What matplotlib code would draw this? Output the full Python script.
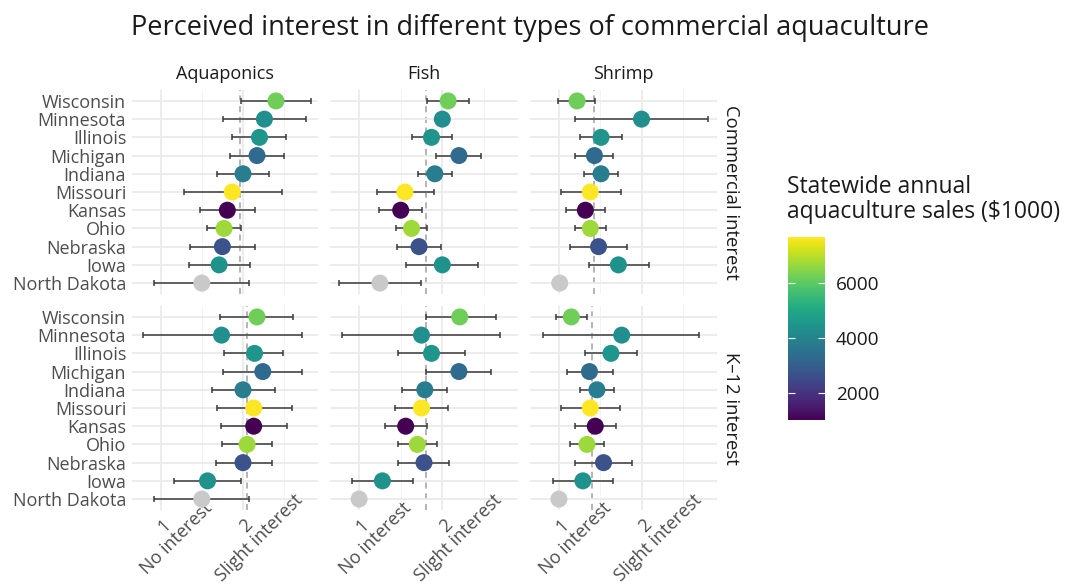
import matplotlib.pyplot as plt
import numpy as np
from matplotlib import colors, colorbar
from matplotlib.transforms import ScaledTranslation

plt.rcParams['font.family'] = ['Open Sans', 'DejaVu Sans']

# --- dados ---
states = ['Wisconsin', 'Minnesota', 'Illinois', 'Michigan', 'Indiana', 'Missouri',
          'Kansas', 'Ohio', 'Nebraska', 'Iowa', 'North Dakota']
sales = [6200, 4300, 4500, 3300, 3800, 7670, 1020, 6700, 2700, 4400, np.nan]

types = ['Aquaponics', 'Fish', 'Shrimp']
rows = ['Commercial interest', 'K\u201312 interest']

# Commercial interest
aqua_com_mean = [2.40, 2.26, 2.20, 2.17, 2.00, 1.87, 1.81, 1.77, 1.75, 1.71, 1.50]
aqua_com_lo = [1.97, 1.76, 1.87, 1.84, 1.69, 1.29, 1.48, 1.56, 1.36, 1.35, 0.92]
aqua_com_hi = [2.83, 2.76, 2.52, 2.50, 2.32, 2.47, 2.15, 1.97, 2.15, 2.08, 2.07]

fish_com_mean = [2.07, 2.00, 1.87, 2.20, 1.91, 1.55, 1.50, 1.63, 1.72, 2.00, 1.25]
fish_com_lo = [1.815, np.nan, 1.63, 1.92, 1.71, 1.21, 1.24, 1.44, 1.46, 1.56, 0.757]
fish_com_hi = [2.32, np.nan, 2.12, 2.47, 2.12, 1.90, 1.75, 1.815, 1.98, 2.43, 1.74]

shrimp_com_mean = [1.22, 2.00, 1.51, 1.43, 1.51, 1.38, 1.32, 1.38, 1.48, 1.72, 1.01]
shrimp_com_lo = [0.99, 1.20, 1.25, 1.20, 1.30, 1.02, 1.08, 1.19, 1.13, 1.36, np.nan]
shrimp_com_hi = [1.44, 2.81, 1.76, 1.66, 1.72, 1.75, 1.56, 1.57, 1.83, 2.09, np.nan]

# K-12 interest
aqua_k12_mean = [2.17, 1.74, 2.14, 2.24, 2.00, 2.13, 2.13, 2.05, 2.00, 1.57, 1.50]
aqua_k12_lo = [1.72, 0.79, 1.77, 1.76, 1.63, 1.68, 1.73, 1.74, 1.67, 1.16, 0.92]
aqua_k12_hi = [2.61, 2.72, 2.49, 2.71, 2.39, 2.59, 2.53, 2.35, 2.35, 1.97, 2.07]

fish_k12_mean = [2.21, 1.75, 1.87, 2.20, 1.79, 1.75, 1.56, 1.70, 1.78, 1.28, 1.00]
fish_k12_lo = [1.80, 0.80, 1.47, 1.80, 1.52, 1.43, 1.31, 1.47, 1.47, 0.92, np.nan]
fish_k12_hi = [2.64, 2.69, 2.27, 2.59, 2.06, 2.07, 1.82, 1.94, 2.08, 1.65, np.nan]

shrimp_k12_mean = [1.15, 1.76, 1.63, 1.37, 1.46, 1.38, 1.44, 1.34, 1.54, 1.29, 1.00]
shrimp_k12_lo = [0.96, 0.81, 1.32, 1.10, 1.26, 1.02, 1.19, 1.13, 1.20, 0.93, np.nan]
shrimp_k12_hi = [1.34, 2.70, 1.94, 1.65, 1.67, 1.74, 1.69, 1.55, 1.88, 1.66, np.nan]

# media geral (linha tracejada)
overall_com = [1.96, 1.81, 1.42]
overall_k12 = [2.045, 1.80, 1.40]

x_ticks = [1, 2]
x_labels = ['1\nNo interest', '2\nSlight interest']
cbar_ticks = [2000, 4000, 6000]

paineis = {
    (0, 0): (aqua_com_mean, aqua_com_lo, aqua_com_hi),
    (0, 1): (fish_com_mean, fish_com_lo, fish_com_hi),
    (0, 2): (shrimp_com_mean, shrimp_com_lo, shrimp_com_hi),
    (1, 0): (aqua_k12_mean, aqua_k12_lo, aqua_k12_hi),
    (1, 1): (fish_k12_mean, fish_k12_lo, fish_k12_hi),
    (1, 2): (shrimp_k12_mean, shrimp_k12_lo, shrimp_k12_hi),
}
medias = [overall_com, overall_k12]

# --- layout em pixels ---
W, H = 1067, 584
fig = plt.figure(figsize=(W / 100, H / 100), dpi=100)

col_x = [(131.7, 318), (330, 518), (530, 716.7)]
row_y = [(90, 294), (306, 510)]

cmap = plt.get_cmap('viridis').with_extremes(bad='#c9c9c9')
norm = colors.Normalize(vmin=np.nanmin(sales), vmax=np.nanmax(sales))
sales_arr = np.array(sales, dtype=float)
y_pos = np.arange(len(states))[::-1]

for (r, c), (media, lo, hi) in paineis.items():
    x0, x1 = col_x[c]
    y0, y1 = row_y[r]
    ax = fig.add_axes([x0 / W, 1 - y1 / H, (x1 - x0) / W, (y1 - y0) / H])
    media = np.array(media)
    lo = np.array(lo)
    hi = np.array(hi)

    ax.set_xlim(0.65, 2.91)
    ax.set_ylim(-0.6, len(states) - 0.4)
    ax.set_xticks(x_ticks)
    ax.set_xticks([1.5, 2.5], minor=True)
    ax.set_yticks(y_pos)
    ax.grid(True, which='major', color='#ebebeb', linewidth=1.3, zorder=0)
    ax.grid(True, which='minor', axis='x', color='#f2f2f2', linewidth=0.7, zorder=0)
    for s in ax.spines.values():
        s.set_visible(False)
    ax.tick_params(which='both', length=0, labelsize=13, labelcolor='#4d4d4d', pad=4)
    ax.set_xticklabels([])

    if c == 0:
        ax.set_yticklabels(states)
    else:
        ax.set_yticklabels([])
    if r == 1:
        # rotulos do eixo x girados 45 graus, centrados um pouco abaixo do tick
        desloc = ScaledTranslation(10 / 100, -22 / 100, fig.dpi_scale_trans)
        for xt, lab in zip(x_ticks, x_labels):
            ax.text(xt, 0, lab, transform=ax.get_xaxis_transform() + desloc,
                    rotation=45, rotation_mode='anchor', ha='center', va='center',
                    multialignment='center', fontsize=13, color='#4d4d4d',
                    linespacing=1.0)

    ax.axvline(medias[r][c], color='#a0a0a0', linestyle=(0, (4, 3)), linewidth=1.1, zorder=1)

    ok = ~np.isnan(lo)
    ax.errorbar(media[ok], y_pos[ok], xerr=[media[ok] - lo[ok], hi[ok] - media[ok]],
                fmt='none', ecolor='#3a3a3a', elinewidth=1.1, capsize=2, capthick=1.1, zorder=2)
    ax.scatter(media, y_pos, c=sales_arr, cmap=cmap, norm=norm, s=150,
               plotnonfinite=True, edgecolors='none', zorder=3)

    if r == 0:
        ax.text(0.5, 1.035, types[c], transform=ax.transAxes, ha='center', va='bottom',
                fontsize=13, color='#1a1a1a')
    if c == 2:
        ax.text(1.03, 0.5, rows[r], transform=ax.transAxes, ha='left', va='center',
                rotation=-90, fontsize=13.3, color='#1a1a1a')

fig.text(530 / W, 1 - 28 / H, 'Perceived interest in different types of commercial aquaculture',
         ha='center', va='center', fontsize=19.5, color='#1a1a1a')

# --- barra de cores ---
cax = fig.add_axes([788 / W, 1 - 420 / H, 37 / W, 183 / H])
cb = colorbar.ColorbarBase(cax, cmap=plt.get_cmap('viridis'), norm=norm, ticks=cbar_ticks)
cb.outline.set_visible(False)
cax.tick_params(axis='y', which='both', left=True, right=True, direction='in',
                color='white', length=5, width=0.8, labelsize=13.7, labelcolor='#1a1a1a', pad=8)
fig.text(787 / W, 1 - 175 / H, 'Statewide annual\naquaculture sales ($1000)',
         ha='left', va='top', fontsize=16.5, color='#1a1a1a', linespacing=1.05)

fig.savefig('out.png', dpi=100)
